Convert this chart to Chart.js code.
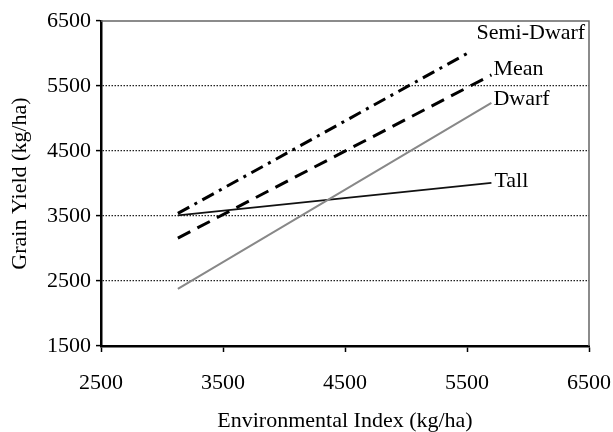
<!DOCTYPE html>
<html>
<head>
<meta charset="utf-8">
<script src="https://cdn.jsdelivr.net/npm/chart.js@4"></script>
<style>
  html, body { margin: 0; padding: 0; background: #fff; }
  #wrap { width: 613px; height: 432px; }
</style>
</head>
<body>
<div id="wrap"><canvas id="myChart" width="613" height="432"></canvas></div>
<script>
// values
const seriesNames = ['Semi-Dwarf', 'Mean', 'Dwarf', 'Tall'];
const envStart = [3130, 3130, 3130, 3130];
const envEnd = [5520, 5700, 5700, 5700];
const yieldStart = [3540, 3160, 2380, 3510];
const yieldEnd = [6020, 5670, 5240, 4010];
const xTicks = [2500, 3500, 4500, 5500, 6500];
const yTicks = [1500, 2500, 3500, 4500, 5500, 6500];

// line looks
const lineColors = ['#000', '#000', '#888', '#111'];
const lineWidths = [3, 3, 2, 1.8];
const lineDashes = [[13, 6, 3, 6], [14, 8], [], []];
const labelOffsets = [[7, -19], [2, -6], [2, -4], [3, -2]];

const FONT = "'Liberation Serif', 'Times New Roman', serif";

var datasets = seriesNames.map(function (name, i) {
    return {
        label: name,
        data: [{x: envStart[i], y: yieldStart[i]}, {x: envEnd[i], y: yieldEnd[i]}],
        borderColor: lineColors[i],
        borderWidth: lineWidths[i],
        borderDash: lineDashes[i],
        pointRadius: 0,
        fill: false
    };
});

// names written at the end of each line, top and right frame
var endLabels = {
    id: 'endLabels',
    afterDatasetsDraw: function (chart) {
        var ctx = chart.ctx;
        var a = chart.chartArea;
        ctx.save();
        ctx.strokeStyle = '#666';
        ctx.lineWidth = 1.5;
        ctx.beginPath();
        ctx.moveTo(a.left, a.top);
        ctx.lineTo(a.right, a.top);
        ctx.lineTo(a.right, a.bottom);
        ctx.stroke();

        ctx.font = '22px ' + FONT;
        ctx.fillStyle = '#000';
        ctx.textAlign = 'left';
        ctx.textBaseline = 'middle';
        chart.data.datasets.forEach(function (ds, i) {
            var pts = chart.getDatasetMeta(i).data;
            var p = pts[pts.length - 1];
            ctx.fillText(ds.label, p.x + labelOffsets[i][0], p.y + labelOffsets[i][1]);
        });
        ctx.restore();
    }
};

function plain(v) { return String(v); }

var ctx = document.getElementById('myChart').getContext('2d');
var chart = new Chart(ctx, {
    type: 'line',
    data: { datasets: datasets },
    plugins: [endLabels],
    options: {
        responsive: false,
        animation: false,
        layout: { padding: { left: 0, right: 24, top: 21, bottom: 0 } },
        plugins: {
            legend: { display: false },
            tooltip: { enabled: false }
        },
        scales: {
            x: {
                type: 'linear',
                min: 2500,
                max: 6500,
                afterBuildTicks: function (scale) {
                    scale.ticks = xTicks.map(function (v) { return {value: v}; });
                },
                afterFit: function (scale) {
                    scale.height = 86;
                    scale.paddingLeft = 0;
                    scale.paddingRight = 0;
                },
                grid: {
                    drawOnChartArea: false,
                    drawTicks: true,
                    tickLength: 6,
                    tickColor: '#000',
                    tickWidth: 1.5
                },
                border: { color: '#000', width: 2.5 },
                ticks: {
                    color: '#000',
                    padding: 18,
                    maxRotation: 0,
                    callback: plain,
                    font: { family: FONT, size: 22 }
                },
                title: {
                    display: true,
                    text: 'Environmental Index (kg/ha)',
                    color: '#000',
                    font: { family: FONT, size: 22, lineHeight: 1.0 },
                    padding: { top: 4, bottom: 0 }
                }
            },
            y: {
                type: 'linear',
                min: 1500,
                max: 6500,
                afterBuildTicks: function (scale) {
                    scale.ticks = yTicks.map(function (v) { return {value: v}; });
                },
                afterFit: function (scale) { scale.width = 101; },
                grid: {
                    drawTicks: true,
                    tickLength: 5,
                    tickColor: '#000',
                    tickWidth: 1.5,
                    lineWidth: 1.2,
                    color: function (c) {
                        var v = c.tick ? c.tick.value : 0;
                        return (v === 1500 || v === 6500) ? 'rgba(0,0,0,0)' : '#222';
                    }
                },
                border: { color: '#000', width: 2.5, dash: [1.5, 1.5] },
                ticks: {
                    color: '#000',
                    padding: 5,
                    callback: plain,
                    font: { family: FONT, size: 22 }
                },
                title: {
                    display: true,
                    text: 'Grain Yield (kg/ha)',
                    color: '#000',
                    font: { family: FONT, size: 22 },
                    padding: { top: 7, bottom: 0 }
                }
            }
        }
    }
});
</script>
</body>
</html>
